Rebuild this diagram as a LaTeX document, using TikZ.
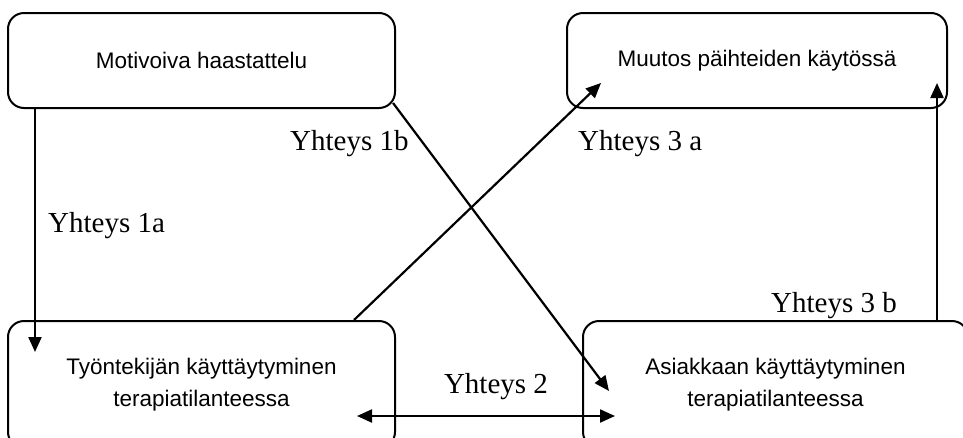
\documentclass[tikz,border=0pt]{standalone}
\usepackage{fontspec}
\setmainfont{Liberation Serif}
\newfontfamily\boxfont{Liberation Sans}
\usetikzlibrary{arrows.meta}
\begin{document}
\begin{tikzpicture}[x=1pt,y=-1pt,
  box/.style={draw,line width=2pt,rounded corners=16pt,rectangle,
    inner sep=0pt,align=center,
    font=\boxfont\fontsize{22.5}{32}\selectfont},
  tip/.style={Triangle[length=15pt,width=13pt]},
  link/.style={line width=2.2pt,-{Triangle[length=15pt,width=13pt]}},
  linklabel/.style={inner sep=0pt,font=\fontsize{29}{34}\selectfont}]
  \useasboundingbox[fill=white] (0,0) rectangle (963,437);

  % boxes
  \node[box,minimum width=387pt,minimum height=95pt] (mh) at (201.5,60.5)
    {Motivoiva haastattelu};
  \node[box,minimum width=380pt,minimum height=95pt] (mu) at (757,60.5)
    {Muutos päihteiden käytössä};
  \node[box,minimum width=387pt,minimum height=127pt] (ty) at (201.5,384.5)
    {Työntekijän käyttäytyminen\\terapiatilanteessa};
  \node[box,minimum width=385pt,minimum height=127pt] (as) at (775.5,384.5)
    {Asiakkaan käyttäytyminen\\terapiatilanteessa};

  % connectors
  \draw[link] ([xshift=28pt]mh.south west) -- ([xshift=28pt,yshift=-32pt]ty.north west);
  \draw[link] ([xshift=-3pt,yshift=6pt]mh.south east) -- ([xshift=27pt,yshift=-71pt]as.north west);
  \draw[link] ([xshift=-42pt]ty.north east) -- ([xshift=35pt,yshift=26pt]mu.south west);
  \draw[link] ([xshift=-32pt]as.north east) -- ([xshift=-11pt,yshift=26pt]mu.south east);
  \draw[link,{Triangle[length=15pt,width=13pt]}-{Triangle[length=15pt,width=13pt]}]
    ([xshift=-39pt,yshift=-31.5pt]ty.east) -- ([xshift=33pt,yshift=-31.5pt]as.west);

  % connector labels
  \node[linklabel,anchor=base west] (l1a) at (48,232) {Yhteys 1a};
  \node[linklabel,anchor=base west] (l1b) at (290,150) {Yhteys 1b};
  \node[linklabel,anchor=base west] (l3a) at (578,150) {Yhteys 3 a};
  \node[linklabel,anchor=base west] (l3b) at (771,312) {Yhteys 3 b};
  \node[linklabel,anchor=base] (l2) at (496,393) {Yhteys 2};
\end{tikzpicture}
\end{document}
